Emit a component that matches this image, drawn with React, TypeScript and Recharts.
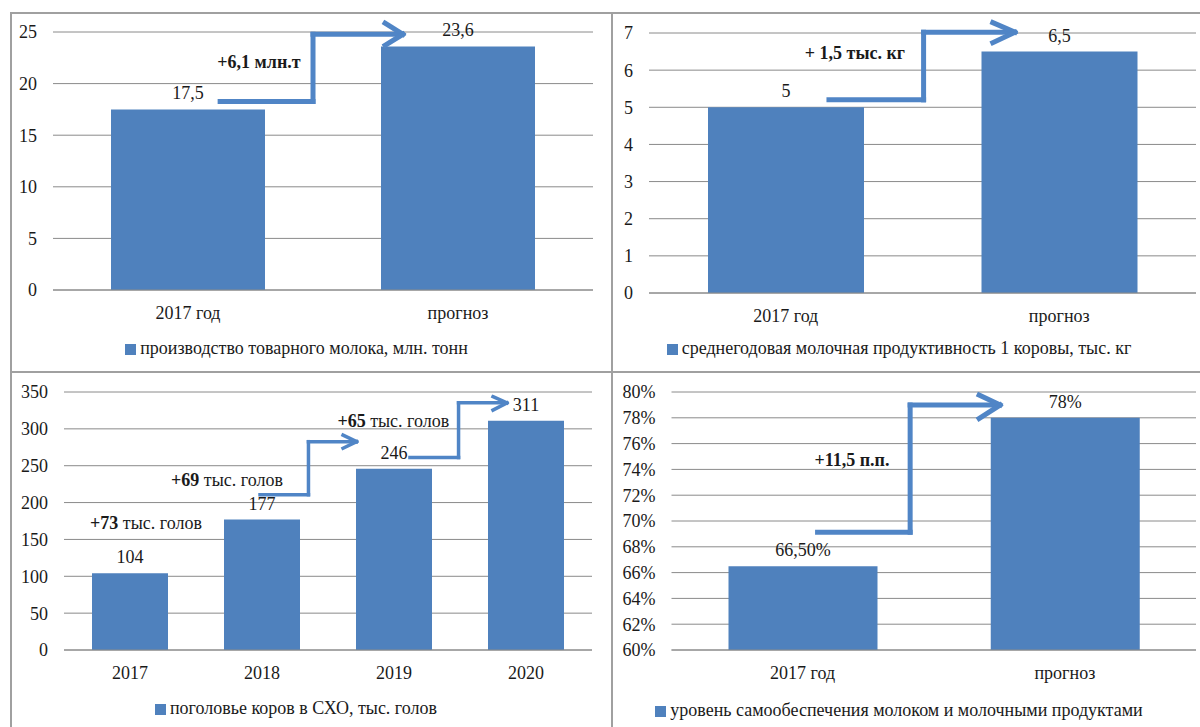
import {
  BarChart,
  Bar,
  XAxis,
  YAxis,
  CartesianGrid,
  LabelList,
  Legend,
  ReferenceLine,
  ReferenceDot,
} from 'recharts';

// производство товарного молока
const milkCategories = ['2017 год', 'прогноз'];
const milkValues = [17.5, 23.6];
const milkTicks = [0, 5, 10, 15, 20, 25];

// продуктивность 1 коровы
const yieldCategories = ['2017 год', 'прогноз'];
const yieldValues = [5, 6.5];
const yieldTicks = [0, 1, 2, 3, 4, 5, 6, 7];

// поголовье коров
const herdCategories = ['2017', '2018', '2019', '2020'];
const herdValues = [104, 177, 246, 311];
const herdTicks = [0, 50, 100, 150, 200, 250, 300, 350];

// уровень самообеспечения
const selfCategories = ['2017 год', 'прогноз'];
const selfValues = [0.665, 0.78];
const selfLabels = ['66,50%', '78%'];
const selfTicks = [0.6, 0.62, 0.64, 0.66, 0.68, 0.7, 0.72, 0.74, 0.76, 0.78, 0.8];

const FONT = '"Liberation Serif", "Times New Roman", Times, serif';
const BLUE = '#4f81bd';
const ARROW = '#5085c6';
const GRID = '#8a8a8a';
const TEXT = '#1a1a1a';

// x — номер категории (0, 1, ...), y — в единицах оси
type Pt = [number, number];

interface Arrow {
  path: Pt[];
  head: [Pt, Pt, Pt];
  width: number;
}

interface Note {
  x: number;
  y: number;
  bold: string;
  rest?: string;
}

interface PanelProps {
  left: number;
  top: number;
  width: number;
  height: number;
  categories: string[];
  values: number[];
  labels?: string[];
  ticks: number[];
  tickFormat?: (v: number) => string;
  legend: string;
  yWidth: number;
  margin: { top: number; right: number; bottom: number };
  xHeight: number;
  barSize: number;
  arrows: Arrow[];
  notes: Note[];
}

function arrowLines(a: Arrow, key: string) {
  const segs: [Pt, Pt][] = [];
  for (let i = 0; i < a.path.length - 1; i++) segs.push([a.path[i], a.path[i + 1]]);
  segs.push([a.head[0], a.head[1]]);
  segs.push([a.head[1], a.head[2]]);
  return segs.map(([p, q], i) => (
    <ReferenceLine
      key={`${key}-${i}`}
      ifOverflow="visible"
      segment={[
        { x: p[0], y: p[1] },
        { x: q[0], y: q[1] },
      ]}
      stroke={ARROW}
      strokeWidth={a.width}
      strokeLinecap="square"
    />
  ));
}

function noteDot(n: Note, key: string) {
  return (
    <ReferenceDot
      key={key}
      x={n.x}
      y={n.y}
      r={0}
      ifOverflow="visible"
      shape={(p: any) => (
        <text
          x={p.cx}
          y={p.cy}
          textAnchor="middle"
          dominantBaseline="central"
          fontFamily={FONT}
          fontSize={18}
          fill={TEXT}
        >
          <tspan fontWeight="bold">{n.bold}</tspan>
          {n.rest ? <tspan>{n.rest}</tspan> : null}
        </text>
      )}
    />
  );
}

function Panel(props: PanelProps) {
  const { categories, values, labels, ticks, tickFormat } = props;
  const chartData = categories.map((c, i) => ({
    idx: i,
    name: c,
    value: values[i],
    label: labels ? labels[i] : String(values[i]).replace('.', ','),
  }));
  const n = categories.length;
  const tickStyle = { fill: TEXT, fontSize: 18, fontFamily: FONT };

  return (
    <div style={{ position: 'absolute', left: props.left, top: props.top, fontFamily: FONT }}>
      <BarChart
        width={props.width}
        height={props.height}
        data={chartData}
        margin={{ left: 0, ...props.margin }}
      >
        <CartesianGrid vertical={false} stroke={GRID} strokeWidth={1} />
        <XAxis
          dataKey="idx"
          type="number"
          domain={[-0.5, n - 0.5]}
          ticks={chartData.map((d) => d.idx)}
          tickFormatter={(i: number) => categories[i]}
          allowDataOverflow
          axisLine={{ stroke: GRID }}
          tickLine={false}
          tickSize={0}
          tickMargin={16}
          height={props.xHeight}
          tick={tickStyle}
          interval={0}
        />
        <YAxis
          width={props.yWidth}
          domain={[ticks[0], ticks[ticks.length - 1]]}
          ticks={ticks}
          interval={0}
          allowDataOverflow
          axisLine={false}
          tickLine={false}
          tickSize={0}
          tickMargin={16}
          tick={tickStyle}
          tickFormatter={tickFormat}
        />
        <Legend
          verticalAlign="bottom"
          align="center"
          iconType="square"
          iconSize={11}
          wrapperStyle={{ fontFamily: FONT, fontSize: 18 }}
          formatter={(v: string) => <span style={{ color: TEXT }}>{v}</span>}
        />
        <Bar
          dataKey="value"
          name={props.legend}
          fill={BLUE}
          barSize={props.barSize}
          isAnimationActive={false}
        >
          <LabelList
            dataKey="label"
            position="top"
            offset={10}
            fill={TEXT}
            fontSize={18}
            fontFamily={FONT}
          />
        </Bar>
        {props.arrows.flatMap((a, i) => arrowLines(a, `a${i}`))}
        {props.notes.map((nt, i) => noteDot(nt, `n${i}`))}
      </BarChart>
    </div>
  );
}

const pctFormat = (v: number) => `${Math.round(v * 100)}%`;

export default function App() {
  return (
    <div
      style={{
        position: 'absolute',
        left: 0,
        top: 0,
        width: 1200,
        height: 727,
        background: '#fff',
        overflow: 'hidden',
      }}
    >
      {/* рамка листа */}
      <div style={{ position: 'absolute', left: 10, top: 12, width: 1190, height: 2, background: '#a0a0a0' }} />
      <div style={{ position: 'absolute', left: 10, top: 12, width: 2, height: 715, background: '#a0a0a0' }} />
      <div style={{ position: 'absolute', left: 611, top: 12, width: 2, height: 715, background: '#a0a0a0' }} />
      <div style={{ position: 'absolute', left: 10, top: 371, width: 1190, height: 2, background: '#a0a0a0' }} />

      <Panel
        left={10}
        top={13}
        width={600}
        height={358}
        categories={milkCategories}
        values={milkValues}
        ticks={milkTicks}
        legend="производство товарного молока, млн. тонн"
        yWidth={43}
        margin={{ top: 19, right: 17, bottom: 12 }}
        xHeight={48}
        barSize={154}
        arrows={[
          {
            path: [[0.119, 18.27], [0.463, 18.27], [0.463, 24.78], [0.79, 24.78]],
            head: [[0.73, 25.85], [0.796, 24.78], [0.73, 23.71]],
            width: 5,
          },
        ]}
        notes={[{ x: 0.263, y: 22.06, bold: '+6,1 млн.т' }]}
      />

      <Panel
        left={612}
        top={13}
        width={588}
        height={358}
        categories={yieldCategories}
        values={yieldValues}
        ticks={yieldTicks}
        legend="среднегодовая молочная продуктивность 1 коровы, тыс. кг"
        yWidth={37}
        margin={{ top: 20, right: 4, bottom: 12 }}
        xHeight={45}
        barSize={156}
        arrows={[
          {
            path: [[0.158, 5.2], [0.504, 5.2], [0.504, 7.02], [0.83, 7.02]],
            head: [[0.757, 7.28], [0.838, 7.02], [0.757, 6.74]],
            width: 5,
          },
        ]}
        notes={[{ x: 0.253, y: 6.45, bold: '+ 1,5 тыс. кг' }]}
      />

      <Panel
        left={10}
        top={373}
        width={600}
        height={354}
        categories={herdCategories}
        values={herdValues}
        ticks={herdTicks}
        legend="поголовье коров в СХО, тыс. голов"
        yWidth={54}
        margin={{ top: 19, right: 18, bottom: 8 }}
        xHeight={48}
        barSize={76}
        arrows={[
          {
            path: [[0.985, 210.7], [1.352, 210.7], [1.352, 282.6], [1.71, 282.6]],
            head: [[1.614, 291.4], [1.717, 282.6], [1.614, 273.7]],
            width: 3.5,
          },
          {
            path: [[2.121, 261.1], [2.489, 261.1], [2.489, 335.3], [2.85, 335.3]],
            head: [[2.75, 343.6], [2.856, 335.3], [2.75, 325.5]],
            width: 3.5,
          },
        ]}
        notes={[
          { x: 0.121, y: 172, bold: '+73', rest: ' тыс. голов' },
          { x: 0.735, y: 231.1, bold: '+69', rest: ' тыс. голов' },
          { x: 1.995, y: 310.9, bold: '+65', rest: ' тыс. голов' },
        ]}
      />

      <Panel
        left={612}
        top={373}
        width={588}
        height={354}
        categories={selfCategories}
        values={selfValues}
        labels={selfLabels}
        ticks={selfTicks}
        tickFormat={pctFormat}
        legend="уровень самообеспечения молоком и молочными продуктами"
        yWidth={59.5}
        margin={{ top: 19, right: 4, bottom: 6 }}
        xHeight={50}
        barSize={149}
        arrows={[
          {
            path: [[0.057, 0.6913], [0.41, 0.6913], [0.41, 0.7899], [0.745, 0.7899]],
            head: [[0.673, 0.7977], [0.753, 0.7899], [0.673, 0.7795]],
            width: 5,
          },
        ]}
        notes={[{ x: 0.188, y: 0.747, bold: '+11,5 п.п.' }]}
      />
    </div>
  );
}
